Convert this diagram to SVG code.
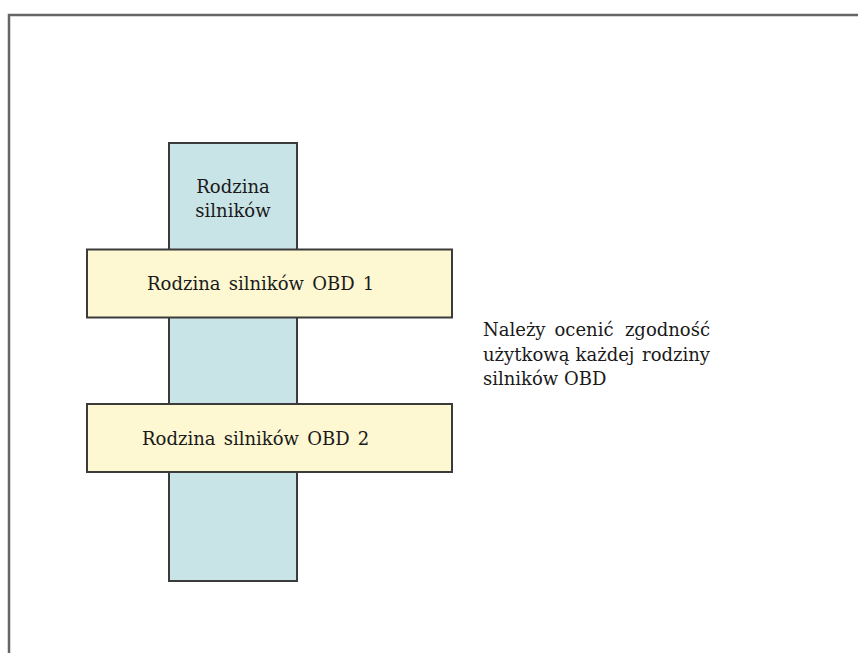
<svg xmlns="http://www.w3.org/2000/svg" width="858" height="653" viewBox="0 0 858 653">
<style>
text{font-family:'DejaVu Serif','Liberation Serif',serif;font-size:18px;fill:#1a1a1a}
.m{text-anchor:middle}
.e{text-anchor:end}
.frame{fill:none;stroke:#666;stroke-width:2.5}
.blue{fill:#c9e4e7;stroke:#3b3b3b;stroke-width:2}
.yel{fill:#fdf7d2;stroke:#3b3b3b;stroke-width:2}
</style>
<rect width="858" height="653" fill="#fff"/>
<path class="frame" d="M9,653 V15 H858"/>
<g id="family">
<rect class="blue" x="169" y="143" width="128" height="438"/>
<text class="m" x="233" y="193">Rodzina</text>
<text class="m" x="233" y="217">silników</text>
</g>
<g id="obd1">
<rect class="yel" x="87" y="249.5" width="365" height="68"/>
<text x="147" y="290" word-spacing="2.5">Rodzina silników OBD 1</text>
</g>
<g id="obd2">
<rect class="yel" x="87" y="404" width="365" height="68"/>
<text x="142" y="445" word-spacing="2.5">Rodzina silników OBD 2</text>
</g>
<g id="note">
<text x="483" y="336">Należy</text>
<text class="m" x="584" y="336">ocenić</text>
<text class="e" x="710" y="336">zgodność</text>
<text x="483" y="361">użytkową</text>
<text class="m" x="605" y="361">każdej</text>
<text class="e" x="710" y="361">rodziny</text>
<text x="483" y="385">silników OBD</text>
</g>
<g id="connectors"></g>
</svg>
